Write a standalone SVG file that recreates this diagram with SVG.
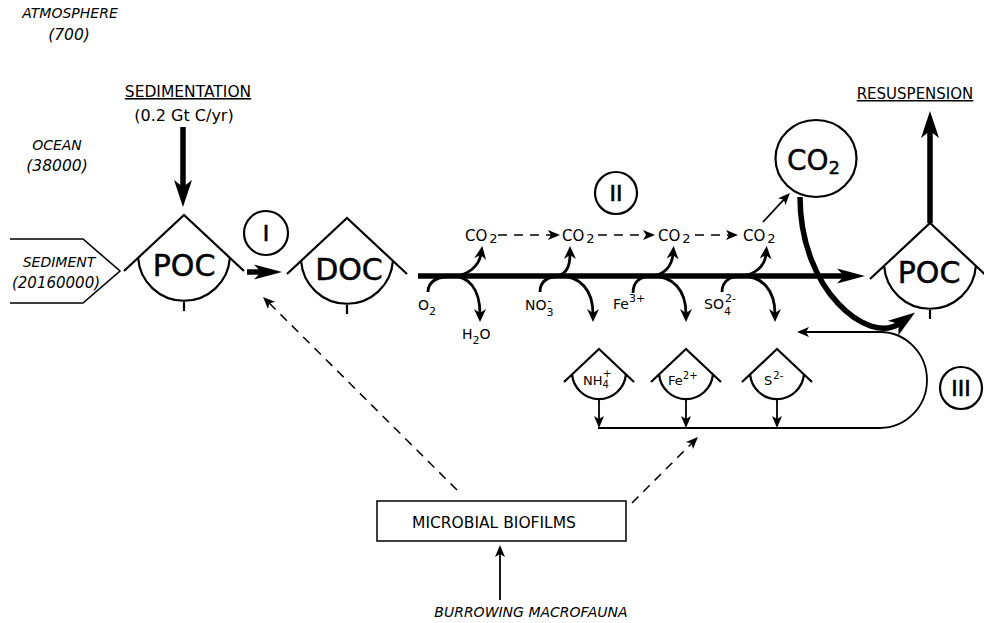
<svg xmlns="http://www.w3.org/2000/svg" xmlns:xlink="http://www.w3.org/1999/xlink" width="984" height="623" viewBox="0 0 984 623">
<style>
.n{fill:none;stroke:#000;stroke-width:2.2}
.t{font-family:"DejaVu Sans","Liberation Sans",sans-serif;fill:#000}
.i{font-style:italic}
.c{text-anchor:middle}
.big{font-size:30px;stroke:#000;stroke-width:0.5}
.thick{fill:none;stroke:#000;stroke-width:5.5}
.rx{fill:none;stroke:#000;stroke-width:2.8}
.thin{fill:none;stroke:#000;stroke-width:1.8}
.dash{fill:none;stroke:#000;stroke-width:1.5;stroke-dasharray:9 7}
.num{font-size:22px;stroke:#000;stroke-width:0.6}
</style>
<defs>
<marker id="mBig" markerUnits="userSpaceOnUse" viewBox="0 -10 28 20" refX="9" refY="0" markerWidth="28" markerHeight="20" orient="auto"><path d="M0,-9 L27,0 L0,9 L7,0 Z" fill="#000"/></marker>
<marker id="mMain" markerUnits="userSpaceOnUse" viewBox="0 -8 29 16" refX="9" refY="0" markerWidth="29" markerHeight="16" orient="auto"><path d="M0,-7.5 L28,0 L0,7.5 L7,0 Z" fill="#000"/></marker>
<marker id="mMed" markerUnits="userSpaceOnUse" viewBox="0 -7 14 14" refX="5" refY="0" markerWidth="14" markerHeight="14" orient="auto"><path d="M0,-6 L13,0 L0,6 L4,0 Z" fill="#000"/></marker>
<marker id="mSm" markerUnits="userSpaceOnUse" viewBox="0 -6 13 12" refX="4" refY="0" markerWidth="13" markerHeight="12" orient="auto"><path d="M0,-5 L12,0 L0,5 L3,0 Z" fill="#000"/></marker>
<path id="shapeBig" d="M-60,56 L0,0 L60,56 M-45.9,42.8 A46,46 0 0 0 45.9,42.8 M0,87 V96"/>
<path id="shapeSm" d="M-35,33 L0,0 L35,33 M-26.9,25.4 A27,27 0 0 0 26.9,25.4"/>
</defs>
<rect width="984" height="623" fill="#fff"/>

<!-- region labels -->
<g id="labels" class="t">
<text class="t i c" x="70" y="18" font-size="14">ATMOSPHERE</text>
<text class="t i c" x="69" y="40" font-size="15.5">(700)</text>
<text class="t i c" x="57" y="150" font-size="14">OCEAN</text>
<text class="t i c" x="57" y="171" font-size="15.5">(38000)</text>
<text class="t c" x="188" y="97" font-size="15.5" text-decoration="underline">SEDIMENTATION</text>
<text class="t c" x="184" y="121" font-size="16">(0.2 Gt C/yr)</text>
<text class="t c" x="915" y="99" font-size="15" text-decoration="underline">RESUSPENSION</text>
<text class="t i c" x="531" y="617" font-size="14">BURROWING MACROFAUNA</text>
</g>

<!-- connectors -->
<g id="connectors">
<path class="thick" d="M183,127 V189" marker-end="url(#mBig)"/>
<path class="thick" d="M930,223 V129" marker-end="url(#mBig)"/>
<path class="thick" d="M247,272 H263" marker-end="url(#mMain)"/>
<path class="thick" d="M418,276 H846" marker-end="url(#mMain)"/>
<path class="thick" d="M800,197 C800,290 868,346 900.4,322.9" marker-end="url(#mBig)"/>
<!-- reaction 1 -->
<path class="rx" d="M428,292 C428,281 438,276 455,276"/>
<path class="rx" d="M452,276 C468,276 479,266 481,254" marker-end="url(#mMed)"/>
<path class="rx" d="M452,276 C468,276 480,288 480,314" marker-end="url(#mMed)"/>
<!-- reaction 2 -->
<path class="rx" d="M540,292 C540,281 548,276 562,276"/>
<path class="rx" d="M556,276 C566,275 570,266 570,254" marker-end="url(#mMed)"/>
<path class="rx" d="M560,276 C580,276 593,290 593,314" marker-end="url(#mMed)"/>
<!-- reaction 3 -->
<path class="rx" d="M633,293 C633,282 640,276 652,276"/>
<path class="rx" d="M650,276 C664,276 672,266 673,254" marker-end="url(#mMed)"/>
<path class="rx" d="M652,276 C673,276 686,290 686,314" marker-end="url(#mMed)"/>
<!-- reaction 4 -->
<path class="rx" d="M722,292 C722,281 730,276 742,276"/>
<path class="rx" d="M738,276 C755,276 765,266 766,254" marker-end="url(#mMed)"/>
<path class="rx" d="M742,276 C762,276 775,290 775,314" marker-end="url(#mMed)"/>
<!-- CO2 chain -->
<path class="dash" d="M498,235 H552" marker-end="url(#mSm)"/>
<path class="dash" d="M598,235 H647" marker-end="url(#mSm)"/>
<path class="dash" d="M695,235 H730" marker-end="url(#mSm)"/>
<path class="thin" d="M763,222 L784.5,198.8" marker-end="url(#mSm)"/>
<!-- microbial influence -->
<path class="dash" d="M457,490 L268.7,302.6" marker-end="url(#mSm)"/>
<path class="dash" d="M632,503 L692.3,442.7" marker-end="url(#mSm)"/>
<path class="thin" d="M500,600 V553" stroke-width="1.5" marker-end="url(#mSm)"/>
<!-- reduced products -->
<path class="thin" d="M599,399 V420" marker-end="url(#mSm)"/>
<path class="thin" d="M686,399 V420" marker-end="url(#mSm)"/>
<path class="thin" d="M777,399 V420" marker-end="url(#mSm)"/>
<path class="thin" d="M598,428 H880 A47,48 0 0 0 880,332 H805" marker-end="url(#mSm)"/>
</g>

<!-- reaction species labels -->
<g id="species" class="t" font-size="14">
<text class="t" x="465" y="241" font-size="15">CO<tspan dx="2" dy="2" font-size="13">2</tspan></text>
<text class="t" x="562" y="241" font-size="15">CO<tspan dx="2" dy="2" font-size="13">2</tspan></text>
<text class="t" x="658" y="241" font-size="15">CO<tspan dx="2" dy="2" font-size="13">2</tspan></text>
<text class="t" x="743" y="241" font-size="15">CO<tspan dx="2" dy="2" font-size="13">2</tspan></text>
<text class="t" x="418" y="310">O<tspan dy="5" font-size="11">2</tspan></text>
<text class="t" x="462" y="339">H<tspan dy="5" font-size="11">2</tspan><tspan dy="-5">O</tspan></text>
<text class="t" x="525" y="310">NO<tspan dy="6" font-size="11">3</tspan><tspan dx="-6" dy="-12" font-size="11">-</tspan></text>
<text class="t" x="613" y="309">Fe<tspan dy="-7" font-size="11">3+</tspan></text>
<text class="t" x="704" y="309">SO<tspan dy="6" font-size="11">4</tspan><tspan dx="-6" dy="-13" font-size="11">2-</tspan></text>
</g>

<!-- nodes -->
<g id="node-sediment">
<path d="M10,239 H83 L120,271 L83,303 H10" fill="none" stroke="#000" stroke-width="1.6"/>
<text class="t i c" x="59" y="267" font-size="14">SEDIMENT</text>
<text class="t i c" x="56" y="288" font-size="15">(20160000)</text>
</g>
<g id="node-poc-left">
<use xlink:href="#shapeBig" href="#shapeBig" class="n" transform="translate(184,215)"/>
<text class="t c big" x="184" y="276">POC</text>
</g>
<g id="node-doc">
<use xlink:href="#shapeBig" href="#shapeBig" class="n" transform="translate(347,218)"/>
<text class="t c big" x="349" y="280" font-size="29">DOC</text>
</g>
<g id="node-poc-right">
<use xlink:href="#shapeBig" href="#shapeBig" class="n" transform="translate(930,223)"/>
<text class="t c big" x="929" y="283">POC</text>
</g>
<g id="node-co2">
<ellipse cx="816" cy="158.5" rx="40.5" ry="38.5" class="n"/>
<text class="t" x="787" y="170" font-size="28" stroke="#000" stroke-width="0.4">CO<tspan dy="4" font-size="18">2</tspan></text>
</g>
<g id="node-nh4">
<use xlink:href="#shapeSm" href="#shapeSm" class="n" transform="translate(599,349)"/>
<text class="t" x="583" y="385" font-size="13">NH<tspan dy="3" font-size="10">4</tspan><tspan dx="-6" dy="-11" font-size="10">+</tspan></text>
</g>
<g id="node-fe2">
<use xlink:href="#shapeSm" href="#shapeSm" class="n" transform="translate(686,349)"/>
<text class="t" x="668" y="385" font-size="13">Fe<tspan dy="-6" font-size="10">2+</tspan></text>
</g>
<g id="node-s2">
<use xlink:href="#shapeSm" href="#shapeSm" class="n" transform="translate(777,349)"/>
<text class="t" x="764" y="385" font-size="13">S<tspan dx="1" dy="-6" font-size="10">2-</tspan></text>
</g>
<g id="node-biofilms">
<rect x="377" y="501" width="249" height="40" fill="none" stroke="#000" stroke-width="1.5"/>
<text class="t c" x="494" y="528" font-size="15.5">MICROBIAL BIOFILMS</text>
</g>
<g id="step-I">
<circle cx="266" cy="233" r="22" class="n" stroke-width="1.8"/>
<text class="t c num" x="266" y="241">I</text>
</g>
<g id="step-II">
<circle cx="616" cy="193" r="21" class="n" stroke-width="1.8"/>
<text class="t c num" x="616" y="201">II</text>
</g>
<g id="step-III">
<circle cx="961" cy="388" r="21" class="n" stroke-width="1.8"/>
<text class="t c num" x="961" y="396">III</text>
</g>
</svg>
